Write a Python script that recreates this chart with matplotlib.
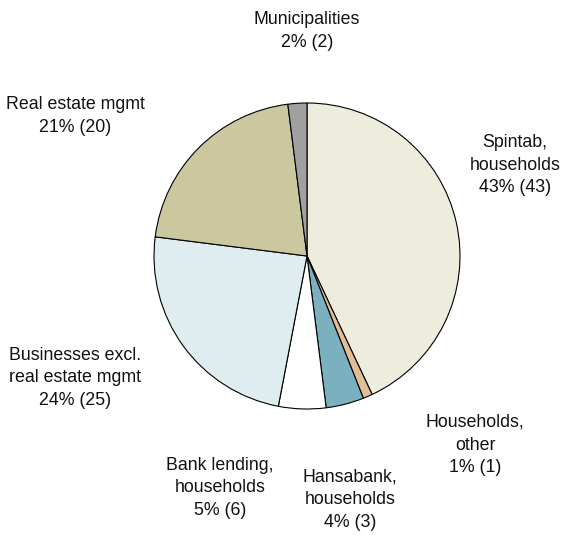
import matplotlib

matplotlib.use("Agg")
import matplotlib.pyplot as plt

plt.rcParams["font.family"] = ["Liberation Sans", "DejaVu Sans"]

# Lending by sector, share in per cent (previous year in brackets)
sectors = [
    "Spintab,\nhouseholds",
    "Households,\nother",
    "Hansabank,\nhouseholds",
    "Bank lending,\nhouseholds",
    "Businesses excl.\nreal estate mgmt",
    "Real estate mgmt",
    "Municipalities",
]
share_now = [43, 1, 4, 5, 24, 21, 2]
share_prev = [43, 1, 3, 6, 25, 20, 2]
colors = ["#EEEDDD", "#E2BE94", "#7BB0BF", "#FFFFFF", "#DFECF0", "#CBC8A0", "#A0A0A0"]

W, H = 564, 535
fig = plt.figure(figsize=(W / 100, H / 100), dpi=100)
ax = fig.add_axes([0, 0, 1, 1])

ax.pie(
    share_now,
    colors=colors,
    center=(307, H - 256),
    radius=153,
    startangle=90,
    counterclock=False,
    wedgeprops=dict(edgecolor="black", linewidth=0.8),
    frame=True,
)
ax.set_xlim(0, W)
ax.set_ylim(0, H)
ax.set_aspect("equal")
ax.axis("off")

# label anchor points (pixels from top-left)
label_xy = [(515, 165), (475, 445), (350, 500), (220, 488), (75, 378), (75, 116), (307, 31)]
for name, now, prev, (x, y) in zip(sectors, share_now, share_prev, label_xy):
    ax.text(x, H - y, f"{name}\n{now}% ({prev})", ha="center", va="center",
            fontsize=12.8, color="#111111", linespacing=1.45)

# heading sits almost entirely above the top edge
fig.text(0.0, 1 + 3.6 / H, "Lending 31 December 2004 (31 December 2003)",
         ha="left", va="baseline", fontsize=12.8, color="#111111")

fig.savefig("out.png", dpi=100)
